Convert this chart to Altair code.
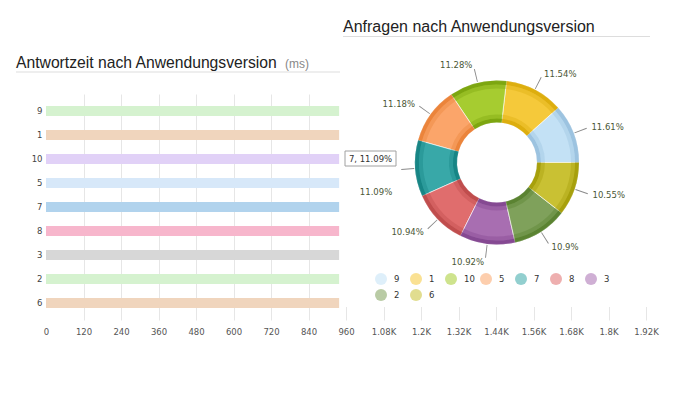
import math
import altair as alt
import pandas as pd

# ---------------- data ----------------
versions = ["9", "1", "10", "5", "7", "8", "3", "2", "6"]
response_ms = [938, 938, 938, 938, 938, 938, 938, 938, 938]
request_share = [11.61, 11.54, 11.28, 11.18, 11.09, 10.94, 10.92, 10.9, 10.55]
x_ticks = [0, 120, 240, 360, 480, 600, 720, 840, 960, 1080, 1200, 1320, 1440, 1560, 1680, 1800, 1920]

left_title = "Antwortzeit nach Anwendungsversion"
left_unit = "(ms)"
right_title = "Anfragen nach Anwendungsversion"

# ---------------- styles ----------------
bar_colors = ["#d5f2cf", "#f0d5bd", "#e1d1f7", "#d7e8f9", "#b1d3ed", "#f7b6cc", "#d7d7d7", "#d5f2cf", "#f0d5bd"]
pie_colors = ["#c3e1f5", "#f5c93a", "#a6cc30", "#fba56a", "#38a8a8", "#e06d6d", "#a86eb1", "#7fa15b", "#c9c133"]
pie_dark = ["#8fb8d8", "#d4a400", "#6f9a05", "#e57a2c", "#0c7a7a", "#b54343", "#7a3d88", "#4f7a24", "#9b9400"]

FONT = "DejaVu Sans"
TITLE_FONT = "Liberation Sans"
LABEL_COLOR = "#4a5736"
CX, CY = 451, 68.5
R_OUT, R_IN = 82, 40

bars_df = pd.DataFrame({"version": versions, "ms": response_ms})
pie_df = pd.DataFrame({"version": versions, "share": request_share, "idx": list(range(len(versions)))})
total = sum(request_share)
one = pd.DataFrame({"k": [0]})

theta_scale = alt.Scale(domain=[0, total], range=[2.5 * math.pi, 0.5 * math.pi])

# ---------------- bars ----------------
bars = alt.Chart(bars_df).mark_bar().encode(
    x=alt.X(
        "ms:Q",
        scale=alt.Scale(domain=[0, 1920], nice=False),
        axis=alt.Axis(
            values=x_ticks, title=None, grid=True,
            gridColor={"condition": {"test": "datum.value === 0", "value": "transparent"}, "value": "#e6e6e6"},
            ticks=False, domain=False, labelPadding=7, labelOverlap=False, labelFlush=False,
            labelFont=FONT, labelFontSize=8.5, labelColor="#555555",
            labelExpr="datum.value >= 1000 ? format(datum.value / 1000, '.3~g') + 'K' : datum.label",
        ),
    ),
    y=alt.Y(
        "version:N", sort=versions,
        scale=alt.Scale(paddingInner=0.5833, paddingOuter=0.5),
        axis=alt.Axis(title=None, ticks=False, domain=False, labelPadding=4,
                      labelFont=FONT, labelFontSize=8.5, labelColor="#444444"),
    ),
    color=alt.Color("version:N", scale=alt.Scale(domain=versions, range=bar_colors), legend=None),
)

# white panel behind the donut
cover = alt.Chart(one).mark_rect(color="white").encode(
    x=alt.value(294), x2=alt.value(620), y=alt.value(0), y2=alt.value(213)
)

# ---------------- donut ----------------
pie_base = alt.Chart(pie_df).transform_window(
    cum_end="sum(share)", sort=[alt.SortField("idx")], frame=[None, 0]
).transform_calculate(
    cum_start="datum.cum_end - datum.share",
    mid="datum.cum_end - datum.share / 2",
    ang=f"{2.5 * math.pi} - 2 * PI * (datum.cum_end - datum.share / 2) / {total}",
    l0="datum.cum_end - datum.share / 2 - 0.08",
    l1="datum.cum_end - datum.share / 2 + 0.08",
    label="datum.share + '%'",
    tip="datum.version + ', ' + datum.share + '%'",
).transform_calculate(
    side="sin(datum.ang) > 0 ? 'R' : 'L'"
)


def ring(r_out, r_in, colors, opacity, legend=None, stroke=None):
    kw = dict(radius=r_out, radius2=r_in, opacity=opacity)
    if stroke:
        kw.update(stroke=stroke, strokeWidth=0.6)
    return pie_base.mark_arc(**kw).encode(
        x=alt.value(CX), y=alt.value(CY),
        theta=alt.Theta("cum_start:Q", scale=theta_scale, stack=False),
        theta2="cum_end:Q",
        color=alt.Color("version:N", sort=versions,
                        scale=alt.Scale(domain=versions, range=colors),
                        legend=legend),
    )


legend = alt.Legend(
    title=None, orient="none", legendX=329, legendY=179, direction="horizontal",
    columns=7, gridAlign="all", symbolType="circle", symbolSize=144,
    symbolOpacity=0.55, symbolStrokeWidth=0,
    labelFont=FONT, labelFontSize=8.5, labelColor="#333333", labelOffset=7,
    columnPadding=5, rowPadding=4, padding=0,
)

base_ring = ring(R_OUT, R_IN, pie_colors, 1.0, legend=legend, stroke="#ffffff")
outer1 = ring(R_OUT, R_OUT - 4, pie_dark, 0.75)
outer2 = ring(R_OUT - 4, R_OUT - 8, pie_dark, 0.3)
inner1 = ring(R_IN + 4, R_IN, pie_dark, 0.75)
inner2 = ring(R_IN + 8, R_IN + 4, pie_dark, 0.3)

leaders = pie_base.mark_arc(radius=96, radius2=R_OUT + 1, color="#8a8a8a").encode(
    x=alt.value(CX), y=alt.value(CY),
    theta=alt.Theta("l0:Q", scale=theta_scale, stack=False),
    theta2="l1:Q",
)


def label_layer(flt, align, dx=0, dy=0):
    return pie_base.transform_filter(flt).mark_text(
        radius=100, align=align, baseline="middle", dx=dx, dy=dy,
        font=FONT, fontSize=8.5, color=LABEL_COLOR,
    ).encode(
        x=alt.value(CX), y=alt.value(CY),
        theta=alt.Theta("mid:Q", scale=theta_scale, stack=False),
        text="label:N",
    )


labels_r = label_layer("datum.side == 'R'", "left", dx=1)
labels_l = label_layer("datum.side == 'L' && datum.version != '7'", "right", dx=-1)
labels_7 = label_layer("datum.version == '7'", "right", dx=-5, dy=22)

# hover tooltip shown in the reference
tip_box = alt.Chart(one).mark_rect(fill="white", stroke="#a0a0a0", strokeWidth=1).encode(
    x=alt.value(299), x2=alt.value(350), y=alt.value(57), y2=alt.value(72)
)
tip_text = pie_base.transform_filter("datum.version == '7'").mark_text(
    align="center", baseline="middle", font=FONT, fontSize=8.5, color="#333333"
).encode(x=alt.value(324.5), y=alt.value(65), text="tip:N")

# ---------------- titles ----------------
t_left = alt.Chart(pd.DataFrame({"t": [left_title]})).mark_text(
    align="left", baseline="alphabetic", font=TITLE_FONT, fontSize=15.7, color="#222222"
).encode(x=alt.value(-30), y=alt.value(-26.5), text="t:N")
t_unit = alt.Chart(pd.DataFrame({"t": [left_unit]})).mark_text(
    align="left", baseline="alphabetic", font=TITLE_FONT, fontSize=12, color="#888888"
).encode(x=alt.value(239), y=alt.value(-26.5), text="t:N")
t_right = alt.Chart(pd.DataFrame({"t": [right_title]})).mark_text(
    align="left", baseline="alphabetic", font=TITLE_FONT, fontSize=16, color="#222222"
).encode(x=alt.value(297), y=alt.value(-62.5), text="t:N")
u_left = alt.Chart(one).mark_rule(color="#dddddd", strokeWidth=1).encode(
    x=alt.value(-30), x2=alt.value(294), y=alt.value(-22)
)
u_right = alt.Chart(one).mark_rule(color="#dddddd", strokeWidth=1).encode(
    x=alt.value(297), x2=alt.value(604), y=alt.value(-57.5)
)

chart = alt.layer(
    bars, cover, base_ring, outer1, outer2, inner1, inner2, leaders,
    labels_r, labels_l, labels_7, tip_box, tip_text,
    t_left, t_unit, t_right, u_left, u_right,
).resolve_scale(color="independent").properties(
    width=600, height=226,
    autosize=alt.AutoSizeParams(type="none"),
    padding={"left": 38, "top": 86, "right": 23, "bottom": 72},
).configure_view(strokeWidth=0)

chart.save("out.html", embed_options={"renderer": "svg", "actions": False})
